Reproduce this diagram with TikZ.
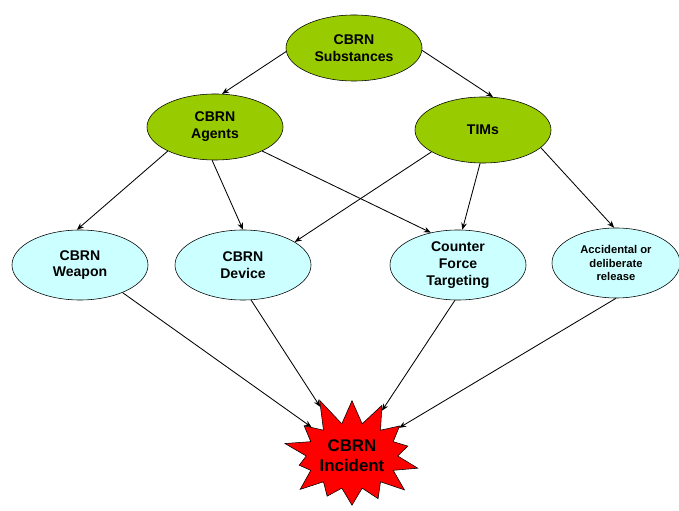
\documentclass[tikz,border=0pt]{standalone}
\usepackage{fontspec}
\setmainfont{Liberation Sans}
\usepackage{tikz}
\usetikzlibrary{positioning, shapes.geometric, shapes.symbols, arrows.meta}

\definecolor{cbrngreen}{RGB}{153,204,0}
\definecolor{cbrncyan}{RGB}{204,255,255}

\begin{document}
\begin{tikzpicture}[x=0.025cm, y=-0.025cm,
	source/.style={ellipse, draw, fill=cbrngreen, minimum width=3.4cm, minimum height=1.65cm, inner sep=0pt, align=center, font=\bfseries},
	route/.style={ellipse, draw, fill=cbrncyan, minimum width=3.4cm, minimum height=1.75cm, inner sep=0pt, align=center, font=\bfseries},
	link/.style={-{Stealth[length=5pt, width=4pt]}, semithick}]
	\useasboundingbox (0, 0) rectangle (679, 511);

	\node[source] (subst) at (354, 48) {CBRN\\Substances};
	\node[source] (agents) at (215, 127) {CBRN\\Agents};
	\node[source] (tims) at (483, 130) {TIMs};

	\node[route] (weapon) at (80, 265) {CBRN\\Weapon};
	\node[route] (device) at (243, 265) {CBRN\\Device};
	\node[route] (counter) at (458, 265) {Counter\\Force\\Targeting};
	\node[route, minimum width=3.2cm, font=\bfseries\footnotesize] (release) at (616, 263) {Accidental or\\deliberate\\release};

	\node[starburst, draw, fill=red, starburst points=14, starburst point height=0.75cm, random starburst=11,
		minimum width=3.5cm, minimum height=3.15cm, inner sep=0pt, align=center, font=\bfseries\large] (incident) at (352, 456) {CBRN\\Incident};

	\draw[link] (subst.183) -- (agents.78);
	\draw[link] (subst.358) -- (tims.73);

	\draw[link] (agents.207) -- (weapon.95);
	\draw[link] (agents.265) -- (device.90);
	\draw[link] (agents.333) -- (counter.130);

	\draw[link] (tims.203) -- (device.24);
	\draw[link] (tims.265) -- (counter.83);
	\draw[link] (tims.343) -- (release.93);

	\foreach \s/\a in {weapon/327, device/283, counter/265, release/270} {
		\draw[link] (\s.\a) -- (incident);
	};
\end{tikzpicture}
\end{document}
